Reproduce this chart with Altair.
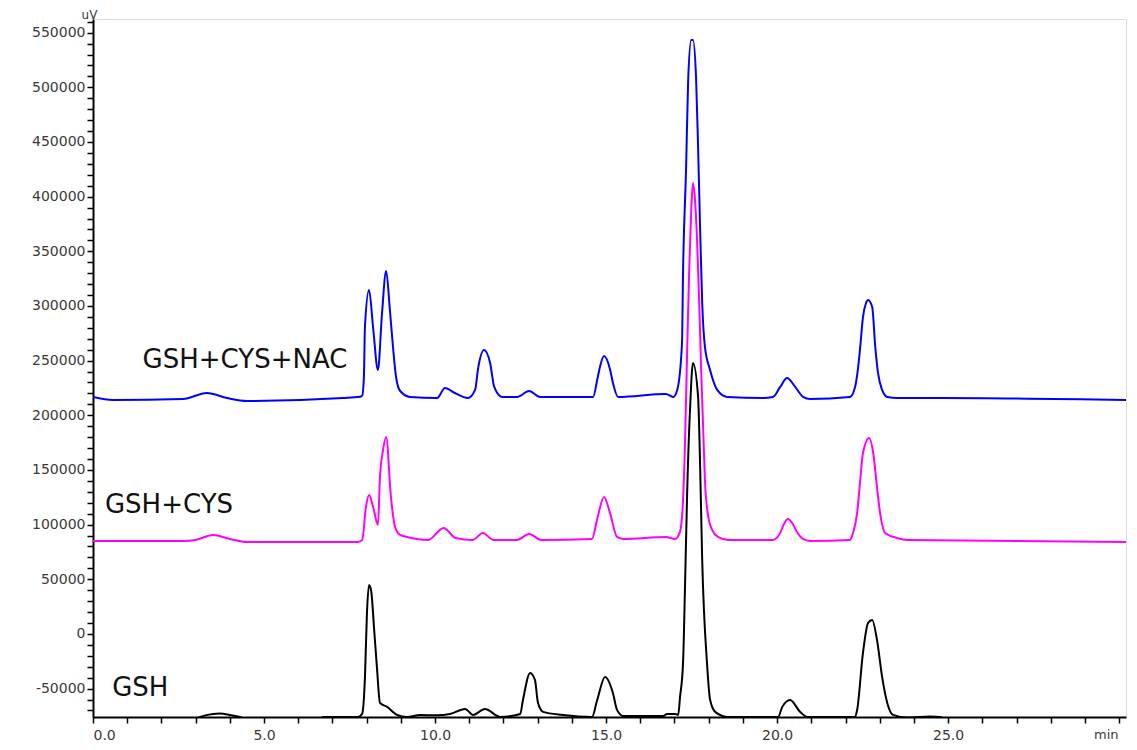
import altair as alt
import pandas as pd

# GSH+CYS+NAC (blue)
nac_t = [0, 0.58, 2.63, 3.33, 3.92, 4.50, 7.31, 7.81, 7.87, 7.92, 7.95, 8.07, 8.19, 8.33, 8.45, 8.57, 8.68, 8.77, 8.86, 8.98, 9.27,
         10.06, 10.29, 10.58, 10.96, 11.17, 11.26, 11.43, 11.61, 11.73, 11.96, 12.40, 12.75, 13.07, 14.62, 14.74, 14.82, 14.94, 15.12,
         15.20, 15.35, 16.75, 16.96, 17.08, 17.22, 17.25, 17.34, 17.40, 17.49, 17.54, 17.63, 17.69, 17.75, 17.81, 17.89, 18.04, 18.25,
         18.54, 19.59, 19.88, 20.09, 20.29, 20.53, 20.76, 20.96, 22.13, 22.28, 22.37, 22.43, 22.51, 22.60, 22.66, 22.78, 22.87, 22.95,
         23.07, 23.22, 23.51, 24.77, 30.20]
nac_v = [216800, 214000, 214900, 220400, 215800, 213100, 215800, 217000, 218000, 235000, 280800, 314600, 279900, 241500, 293600,
         332000, 296300, 262500, 235000, 222200, 216800, 215800, 225000, 220400, 215800, 223200, 243200, 259700, 247900, 225900,
         216800, 216800, 222200, 216800, 216800, 232300, 244200, 254300, 241500, 229600, 216800, 219500, 216800, 223200, 266100,
         330200, 427100, 506700, 543300, 543300, 509400, 445400, 369500, 302700, 262500, 241500, 223200, 216800, 215800, 216800,
         225900, 234100, 225900, 216800, 214900, 216800, 225900, 244200, 262500, 289900, 302700, 305500, 299100, 262500, 238700,
         223200, 216800, 215800, 215800, 214000]

# GSH+CYS (magenta)
cys_t = [0, 2.63, 3.00, 3.51, 4.00, 4.50, 7.75, 7.87, 7.98, 8.07, 8.19, 8.33, 8.39, 8.48, 8.57, 8.71, 8.83, 8.98, 9.18, 9.80,
         10.25, 10.60, 11.10, 11.40, 11.70, 12.40, 12.75, 13.10, 14.59, 14.74, 14.94, 15.12, 15.32, 15.50, 16.75, 17.02, 17.16,
         17.25, 17.31, 17.37, 17.43, 17.49, 17.54, 17.60, 17.66, 17.72, 17.78, 17.84, 17.89, 17.98, 18.10, 18.27, 18.57, 19.88,
         20.09, 20.20, 20.32, 20.44, 20.58, 20.76, 20.96, 22.13, 22.22, 22.34, 22.43, 22.51, 22.69, 22.81, 22.92, 23.01, 23.16,
         23.51, 23.80, 30.20]
cys_v = [85100, 85100, 86000, 90500, 86900, 84100, 84100, 86000, 116200, 127100, 116200, 99700, 143600, 168300, 180200, 125300,
         97900, 90500, 88700, 86000, 96900, 87800, 86000, 92400, 86000, 86000, 91500, 86000, 86900, 105000, 125300, 110000, 88700,
         86900, 88700, 86900, 93300, 122600, 177400, 259700, 332900, 387800, 412500, 396900, 360400, 305500, 241500, 186600,
         140800, 108800, 95100, 88700, 86000, 86000, 92400, 100600, 105200, 101500, 93300, 86900, 85100, 86000, 92400, 110700,
         140800, 165500, 179300, 165500, 134400, 110700, 92400, 87800, 86000, 84100]

# GSH (black)
gsh_t = [0, 2.90, 3.13, 3.51, 3.71, 4.00, 4.30, 4.60, 6.60, 6.73, 7.75, 7.87, 7.95, 8.01, 8.07, 8.13, 8.22, 8.30, 8.39, 8.60,
         8.89, 9.18, 9.56, 10.06, 10.44, 10.88, 11.11, 11.46, 11.90, 12.49, 12.57, 12.78, 12.92, 13.01, 13.16, 13.74, 14.59,
         14.74, 14.97, 15.20, 15.32, 15.50, 16.67, 16.78, 17.02, 17.11, 17.16, 17.25, 17.31, 17.37, 17.46, 17.54, 17.69, 17.75,
         17.81, 17.95, 18.04, 18.19, 18.54, 20.03, 20.15, 20.38, 20.67, 20.88, 22.28, 22.34, 22.51, 22.66, 22.78, 22.92, 23.07,
         23.22, 23.39, 23.80, 24.47, 24.77, 25.00, 30.20]
gsh_v = [-79000, -79000, -75900, -73200, -72800, -74100, -75900, -79000, -79000, -75900, -75900, -73000, -40000, 20000, 44800,
         40000, 3700, -30200, -63100, -66800, -74100, -75900, -74100, -74500, -73200, -68600, -74100, -68600, -75900, -73200,
         -60400, -35700, -42100, -63100, -71300, -74100, -75900, -60400, -39300, -54000, -69500, -75000, -75000, -73200, -73200,
         -74100, -58500, -26500, 46600, 129000, 209400, 247900, 216800, 152700, 67700, -26500, -60000, -71300, -75900, -75900,
         -66800, -60400, -71300, -75900, -75900, -69500, -17400, 10100, 12800, -5500, -39300, -63100, -74100, -76500, -75500,
         -76000, -79000, -79000]

label_text = ["GSH+CYS+NAC", "GSH+CYS", "GSH"]
label_t = [1.45, 0.35, 0.56]
label_v = [250600, 118000, -49400]

series_colors = {"GSH+CYS+NAC": "#0000ff", "GSH+CYS": "#ff00ff", "GSH": "#000000"}

df_nac = pd.DataFrame({"t": nac_t, "v": nac_v})
df_cys = pd.DataFrame({"t": cys_t, "v": cys_v})
df_gsh = pd.DataFrame({"t": gsh_t, "v": gsh_v})
df_lab = pd.DataFrame({"t": label_t, "v": label_v, "label": label_text})

FONT = "DejaVu Sans"
W, H = 1033, 698

x_enc = alt.X(
    "t:Q",
    scale=alt.Scale(domain=[0, 30.2], nice=False, zero=False),
    axis=alt.Axis(
        values=list(range(0, 31)),
        labelExpr="(datum.value % 5 === 0 && datum.value < 30) ? format(datum.value, '.1f') : ''",
        labelOverlap=False,
        labelFont=FONT, labelFontSize=14, labelColor="#3a3a3a", labelPadding=5,
        tickSize=6, tickColor="#000", tickWidth=1.5,
        domainColor="#000", domainWidth=2, grid=False,
        title="min", titleFont=FONT, titleFontSize=13, titleFontWeight="normal", titleColor="#3a3a3a",
        titleX=W - 8, titleY=21, titleAlign="right", titleBaseline="alphabetic",
    ),
)
y_enc = alt.Y(
    "v:Q",
    scale=alt.Scale(domain=[-76000, 562500], nice=False, zero=False),
    axis=alt.Axis(
        values=list(range(-70000, 560001, 10000)),
        labelExpr="datum.value % 50000 === 0 ? ('' + datum.value) : ''",
        labelOverlap=False,
        labelFont=FONT, labelFontSize=14, labelColor="#3a3a3a", labelPadding=2,
        tickSize=6, tickColor="#000", tickWidth=1.5,
        domainColor="#000", domainWidth=2, grid=False,
        title="uV", titleFont=FONT, titleFontSize=12, titleFontWeight="normal", titleColor="#3a3a3a",
        titleAngle=0, titleX=-4, titleY=-1, titleAlign="center", titleBaseline="alphabetic",
    ),
)

def line_layer(df, color):
    return alt.Chart(df).mark_line(clip=True, strokeWidth=2, color=color, interpolate="monotone").encode(x=x_enc, y=y_enc)

layers = [
    line_layer(df_nac, series_colors["GSH+CYS+NAC"]),
    line_layer(df_cys, series_colors["GSH+CYS"]),
    line_layer(df_gsh, series_colors["GSH"]),
    alt.Chart(df_lab).mark_text(align="left", baseline="middle", font=FONT, fontSize=26, color="#111111").encode(
        x=x_enc, y=y_enc, text="label:N"
    ),
]

chart = alt.layer(*layers).properties(
    width=W, height=H,
    autosize="none",
    padding={"left": 85, "top": 11, "right": 3, "bottom": 25},
).configure_view(stroke="#444444", strokeWidth=1.5).configure(background="white")

chart.save("out.html", embed_options={"renderer": "svg", "actions": False})
